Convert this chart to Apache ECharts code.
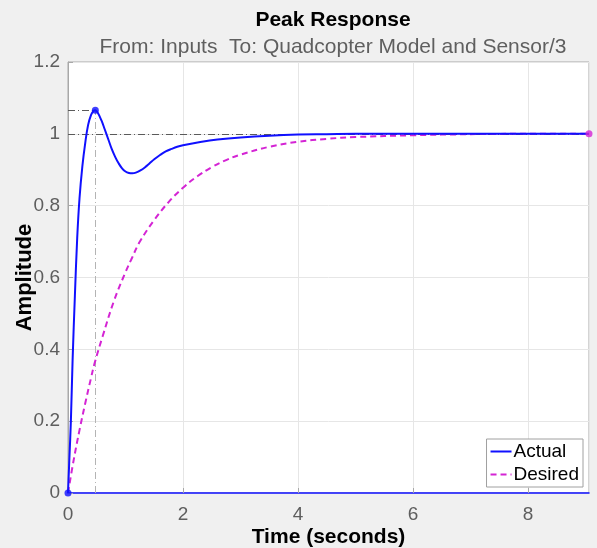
<!DOCTYPE html>
<html>
<head>
<meta charset="utf-8">
<script src="https://cdn.jsdelivr.net/npm/echarts@6/dist/echarts.min.js"></script>
<style>
  html, body { margin: 0; padding: 0; background: #f0f0f0; }
  #chart { width: 597px; height: 548px; }
</style>
</head>
<body>
<div id="chart"></div>
<script>
const actualTime = [0, 0.025, 0.05, 0.08, 0.12, 0.16, 0.2, 0.25, 0.3, 0.35, 0.4, 0.44, 0.475, 0.52, 0.58, 0.64, 0.7, 0.76, 0.82, 0.88, 0.94, 1.0, 1.06, 1.12, 1.18, 1.26, 1.34, 1.42, 1.5, 1.6, 1.7, 1.8, 1.9, 2.0, 2.3, 2.6, 3.0, 3.5, 4.0, 4.5, 5, 6, 7, 8, 9.06];
const actualAmp = [0, 0.1, 0.2, 0.37, 0.55, 0.71, 0.82, 0.91, 0.975, 1.025, 1.052, 1.063, 1.066, 1.058, 1.038, 1.012, 0.985, 0.958, 0.936, 0.918, 0.904, 0.895, 0.891, 0.89, 0.892, 0.898, 0.907, 0.918, 0.929, 0.941, 0.951, 0.958, 0.964, 0.968, 0.977, 0.984, 0.99, 0.995, 0.998, 0.999, 1.0, 1.0, 1.0, 1.0, 1.0];

const desiredTime = [0, 0.1, 0.2, 0.3, 0.4, 0.46, 0.6, 0.8, 1.0, 1.1, 1.25, 1.5, 1.75, 2.0, 2.25, 2.5, 2.75, 3.0, 3.5, 4.0, 4.5, 5, 6, 7, 8, 9.06];
const desiredAmp = [0, 0.093, 0.175, 0.25, 0.32, 0.36, 0.435, 0.535, 0.615, 0.65, 0.70, 0.76, 0.81, 0.85, 0.882, 0.907, 0.927, 0.942, 0.964, 0.978, 0.986, 0.991, 0.996, 0.999, 1.0, 1.0];

const seriesNames = ["Actual", "Desired"];

const COLORS = {
  actual: "#1010ff",
  desired: "#d424d4",
  grid: "#e6e6e6",
  border: "#a8a8a8",
  tick: "#5e5e5e",
  refDark: "#5a5a5a",
  refLight: "#b4b4b4",
};
const FONT = "'Liberation Sans', Arial, sans-serif";
const DASH_DOT = [7, 3, 1, 3];

const zip = (xs, ys) => xs.map((x, i) => [x, ys[i]]);

let peakIdx = 0;
actualAmp.forEach((v, i) => { if (v > actualAmp[peakIdx]) peakIdx = i; });
const peakT = actualTime[peakIdx];
const peakA = actualAmp[peakIdx];
const steady = actualAmp[actualAmp.length - 1];

const chart = echarts.init(document.getElementById("chart"), null, { renderer: "canvas" });

chart.setOption({
  animation: false,
  backgroundColor: "#f0f0f0",
  textStyle: { fontFamily: FONT },
  title: {
    text: "Peak Response",
    subtext: "From: Inputs  To: Quadcopter Model and Sensor/3",
    left: 328,
    top: 5,
    textAlign: "center",
    itemGap: 6,
    textStyle: { fontFamily: FONT, fontSize: 21, fontWeight: "bold", color: "#000" },
    subtextStyle: { fontFamily: FONT, fontSize: 21, color: "#5f5f5f" },
  },
  grid: {
    left: 68, right: 8, top: 62, bottom: 55,
    outerBoundsMode: "none",
    show: true,
    backgroundColor: "#fff",
    borderColor: COLORS.border,
    borderWidth: 1,
  },
  legend: {
    data: seriesNames,
    orient: "vertical",
    right: 14,
    bottom: 61,
    backgroundColor: "#fff",
    borderColor: "#a0a0a0",
    borderWidth: 1,
    borderRadius: 0,
    padding: [3, 4, 3, 3],
    itemGap: 4,
    itemWidth: 21,
    itemHeight: 14,
    itemStyle: { opacity: 0 },
    textStyle: { fontFamily: FONT, fontSize: 19, color: "#000", padding: [0, 0, 0, -3] },
  },
  xAxis: {
    type: "value",
    min: 0,
    max: 9.06,
    interval: 2,
    name: "Time (seconds)",
    nameLocation: "middle",
    nameGap: 34,
    nameMoveOverlap: false,
    nameTextStyle: { fontFamily: FONT, fontSize: 21, fontWeight: "bold", color: "#000" },
    axisLine: { show: true, lineStyle: { color: COLORS.actual, width: 1.5 } },
    axisTick: { show: true, inside: true, length: 5, lineStyle: { color: COLORS.border } },
    axisLabel: { fontFamily: FONT, fontSize: 19, color: COLORS.tick, margin: 12, showMaxLabel: false },
    splitLine: { show: true, lineStyle: { color: COLORS.grid } },
  },
  yAxis: {
    type: "value",
    min: 0,
    max: 1.2,
    interval: 0.2,
    name: "Amplitude",
    nameLocation: "middle",
    nameGap: 32,
    nameMoveOverlap: false,
    nameTextStyle: { fontFamily: FONT, fontSize: 22, fontWeight: "bold", color: "#000" },
    axisLine: { show: true, lineStyle: { color: COLORS.border } },
    axisTick: { show: true, inside: true, length: 5, lineStyle: { color: COLORS.border } },
    axisLabel: { fontFamily: FONT, fontSize: 19, color: COLORS.tick, margin: 8 },
    splitLine: { show: true, lineStyle: { color: COLORS.grid } },
  },
  series: [
    {
      name: seriesNames[0],
      type: "line",
      data: zip(actualTime, actualAmp),
      symbol: "none",
      smooth: 0.4,
      z: 5,
      lineStyle: { color: COLORS.actual, width: 2 },
      itemStyle: { color: COLORS.actual },
      markLine: {
        silent: true,
        symbol: ["none", "none"],
        label: { show: false },
        z: 3,
        data: [
          { yAxis: steady, lineStyle: { color: COLORS.refDark, type: DASH_DOT, width: 1 } },
          [
            { coord: [0, peakA], lineStyle: { color: COLORS.refDark, type: DASH_DOT, width: 1 } },
            { coord: [peakT, peakA] },
          ],
          [
            { coord: [peakT, 0], lineStyle: { color: COLORS.refLight, type: DASH_DOT, width: 1 } },
            { coord: [peakT, peakA] },
          ],
        ],
      },
    },
    {
      name: seriesNames[1],
      type: "line",
      data: zip(desiredTime, desiredAmp),
      symbol: "none",
      smooth: 0.4,
      z: 4,
      lineStyle: { color: COLORS.desired, width: 2, type: [6, 4] },
      itemStyle: { color: COLORS.desired },
    },
    {
      type: "scatter",
      data: [[actualTime[0], actualAmp[0]], [peakT, peakA]],
      symbolSize: 7,
      z: 6,
      itemStyle: { color: COLORS.actual },
    },
    {
      type: "scatter",
      data: [[desiredTime[desiredTime.length - 1], desiredAmp[desiredAmp.length - 1]]],
      symbolSize: 7,
      z: 6,
      itemStyle: { color: COLORS.desired },
    },
  ],
});
</script>
</body>
</html>
